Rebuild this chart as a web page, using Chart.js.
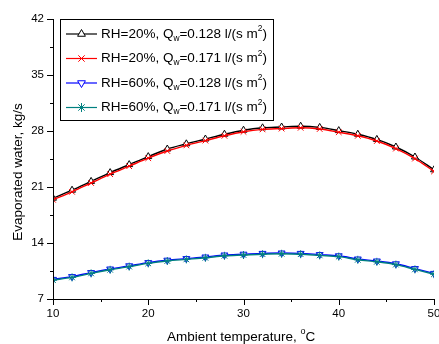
<!DOCTYPE html>
<html>
<head>
<meta charset="utf-8">
<script src="https://cdn.jsdelivr.net/npm/chart.js@4"></script>
<style>
  html, body { margin: 0; padding: 0; background: #fff; }
  #wrap { width: 439px; height: 344px; position: relative; }
</style>
</head>
<body>
<div id="wrap"><canvas id="chart" width="439" height="344"></canvas></div>
<script>
// --- dados ---
const temperatures = [10, 12, 14, 16, 18, 20, 22, 24, 26, 28, 30, 32, 34, 36, 38, 40, 42, 44, 46, 48, 50];
const rh20q128 = [19.6, 20.6, 21.7, 22.8, 23.8, 24.8, 25.75, 26.4, 27.0, 27.6, 28.1, 28.4, 28.5, 28.6, 28.45, 28.05, 27.6, 26.95, 26.0, 24.75, 23.15];
const rh20q171 = [19.4, 20.4, 21.5, 22.6, 23.6, 24.6, 25.5, 26.2, 26.8, 27.4, 27.9, 28.2, 28.3, 28.4, 28.25, 27.85, 27.4, 26.75, 25.8, 24.55, 22.95];
const rh60q128 = [9.45, 9.8, 10.3, 10.75, 11.15, 11.55, 11.85, 12.05, 12.25, 12.5, 12.6, 12.7, 12.75, 12.7, 12.55, 12.4, 12.0, 11.75, 11.4, 10.8, 10.2];
const rh60q171 = [9.35, 9.7, 10.2, 10.65, 11.05, 11.45, 11.75, 11.95, 12.15, 12.4, 12.5, 12.6, 12.65, 12.6, 12.45, 12.3, 11.9, 11.65, 11.3, 10.7, 10.1];
const xTicks = [10, 20, 30, 40, 50];
const yTicks = [7, 14, 21, 28, 35, 42];
const seriesNames = ['RH=20%, Q|w|=0.128 l/(s m^2^)', 'RH=20%, Q|w|=0.171 l/(s m^2^)',
                     'RH=60%, Q|w|=0.128 l/(s m^2^)', 'RH=60%, Q|w|=0.171 l/(s m^2^)'];

const FONT = 'Liberation Sans, Arial, sans-serif';

function pts(arr) { return arr.map((v, i) => ({ x: temperatures[i], y: v })); }

const styles = [
  { color: '#000000', style: 'triangle', rotation: 0, fill: '#ffffff', order: 3 },
  { color: '#ff0000', style: 'crossRot', rotation: 0, fill: '#ff0000', order: 2 },
  { color: '#0000ff', style: 'triangle', rotation: 180, fill: '#ffffff', order: 1 },
  { color: '#008080', style: 'star', rotation: 0, fill: '#008080', order: 0 }
];
const seriesData = [rh20q128, rh20q171, rh60q128, rh60q171];

const datasets = seriesData.map((d, i) => ({
  label: seriesNames[i],
  data: pts(d),
  borderColor: styles[i].color,
  backgroundColor: styles[i].fill,
  borderWidth: 1.4,
  pointStyle: styles[i].style,
  rotation: styles[i].rotation,
  pointRadius: 4,
  pointBorderWidth: 1,
  pointBorderColor: styles[i].color,
  pointBackgroundColor: styles[i].fill,
  tension: 0.4,
  cubicInterpolationMode: 'monotone',
  order: styles[i].order
}));

// desenha texto com |subscrito| e ^sobrescrito^
function richText(ctx, str, x, y, size) {
  const parts = str.split(/(\|[^|]*\||\^[^^]*\^)/).filter(s => s.length);
  let cx = x;
  parts.forEach(p => {
    let s = p, sz = size, dy = 0;
    if (p[0] === '|') { s = p.slice(1, -1); sz = size * 0.62; dy = size * 0.32; }
    else if (p[0] === '^') { s = p.slice(1, -1); sz = size * 0.62; dy = -size * 0.38; }
    ctx.font = sz + 'px ' + FONT;
    ctx.fillText(s, cx, y + dy);
    cx += ctx.measureText(s).width;
  });
  return cx - x;
}

const customAxes = {
  id: 'customAxes',
  afterDraw(chart) {
    const ctx = chart.ctx;
    const xs = chart.scales.x, ys = chart.scales.y;
    const area = chart.chartArea;
    ctx.save();
    ctx.strokeStyle = '#000';
    ctx.lineWidth = 1;
    // eixos
    ctx.beginPath();
    ctx.moveTo(area.left + 0.5, area.top);
    ctx.lineTo(area.left + 0.5, area.bottom + 0.5);
    ctx.lineTo(area.right, area.bottom + 0.5);
    ctx.stroke();
    // ticks maiores e menores
    ctx.beginPath();
    for (let v = 7; v <= 42; v += 3.5) {
      const py = Math.round(ys.getPixelForValue(v)) + 0.5;
      const len = yTicks.includes(v) ? 6 : 3;
      ctx.moveTo(area.left, py); ctx.lineTo(area.left - len, py);
    }
    for (let v = 10; v <= 50; v += 5) {
      const px = Math.round(xs.getPixelForValue(v)) + 0.5;
      const len = xTicks.includes(v) ? 6 : 3;
      ctx.moveTo(px, area.bottom); ctx.lineTo(px, area.bottom + len);
    }
    ctx.stroke();
    // rótulos
    ctx.fillStyle = '#000';
    ctx.font = '11.5px ' + FONT;
    ctx.textAlign = 'right'; ctx.textBaseline = 'middle';
    yTicks.forEach(v => ctx.fillText(String(v), area.left - 9, ys.getPixelForValue(v)));
    ctx.textAlign = 'center'; ctx.textBaseline = 'top';
    xTicks.forEach(v => ctx.fillText(String(v), xs.getPixelForValue(v), area.bottom + 9));
    // títulos dos eixos
    ctx.font = '13.5px ' + FONT;
    ctx.textBaseline = 'middle';
    ctx.save();
    ctx.translate(18, 172);
    ctx.rotate(-Math.PI / 2);
    ctx.textAlign = 'center';
    ctx.fillText('Evaporated water, kg/s', 0, 0);
    ctx.restore();
    ctx.textAlign = 'left';
    const tx = 167;
    const ty = 337;
    ctx.fillText('Ambient temperature, ', tx, ty);
    let w = ctx.measureText('Ambient temperature, ').width;
    ctx.font = '9px ' + FONT;
    ctx.fillText('o', tx + w, ty - 5);
    w += ctx.measureText('o').width;
    ctx.font = '13.5px ' + FONT;
    ctx.fillText('C', tx + w, ty);
    // legenda
    const lx = 60, ly = 19, lw = 213, lh = 101;
    ctx.fillStyle = '#fff';
    ctx.fillRect(lx, ly, lw, lh);
    ctx.strokeStyle = '#000';
    ctx.strokeRect(lx + 0.5, ly + 0.5, lw, lh);
    const rows = [34, 58.5, 83, 107.5];
    chart.data.datasets.forEach((ds, i) => {
      const ry = rows[i];
      ctx.strokeStyle = ds.borderColor;
      ctx.lineWidth = 1.2;
      ctx.beginPath();
      ctx.moveTo(66, ry); ctx.lineTo(97, ry);
      ctx.stroke();
      ctx.lineWidth = 1;
      ctx.fillStyle = ds.pointBackgroundColor;
      Chart.helpers.drawPoint(ctx, { pointStyle: ds.pointStyle, rotation: ds.rotation, radius: 4.5, borderWidth: 1 }, 81.5, ry);
      ctx.fillStyle = '#000';
      ctx.textAlign = 'left'; ctx.textBaseline = 'middle';
      richText(ctx, ds.label, 101, ry, 13.5);
    });
    ctx.restore();
  }
};

new Chart(document.getElementById('chart'), {
  type: 'line',
  data: { datasets },
  options: {
    responsive: false,
    animation: false,
    layout: { padding: { top: 19, right: 5, left: 0, bottom: 0 } },
    plugins: { legend: { display: false }, tooltip: { enabled: false } },
    scales: {
      x: {
        type: 'linear', min: 10, max: 50,
        grid: { display: false }, border: { display: false },
        ticks: { display: false },
        afterFit(s) { s.height = 45; }
      },
      y: {
        min: 7, max: 42,
        grid: { display: false }, border: { display: false },
        ticks: { display: false },
        afterFit(s) { s.width = 53; }
      }
    }
  },
  plugins: [customAxes]
});
</script>
</body>
</html>
